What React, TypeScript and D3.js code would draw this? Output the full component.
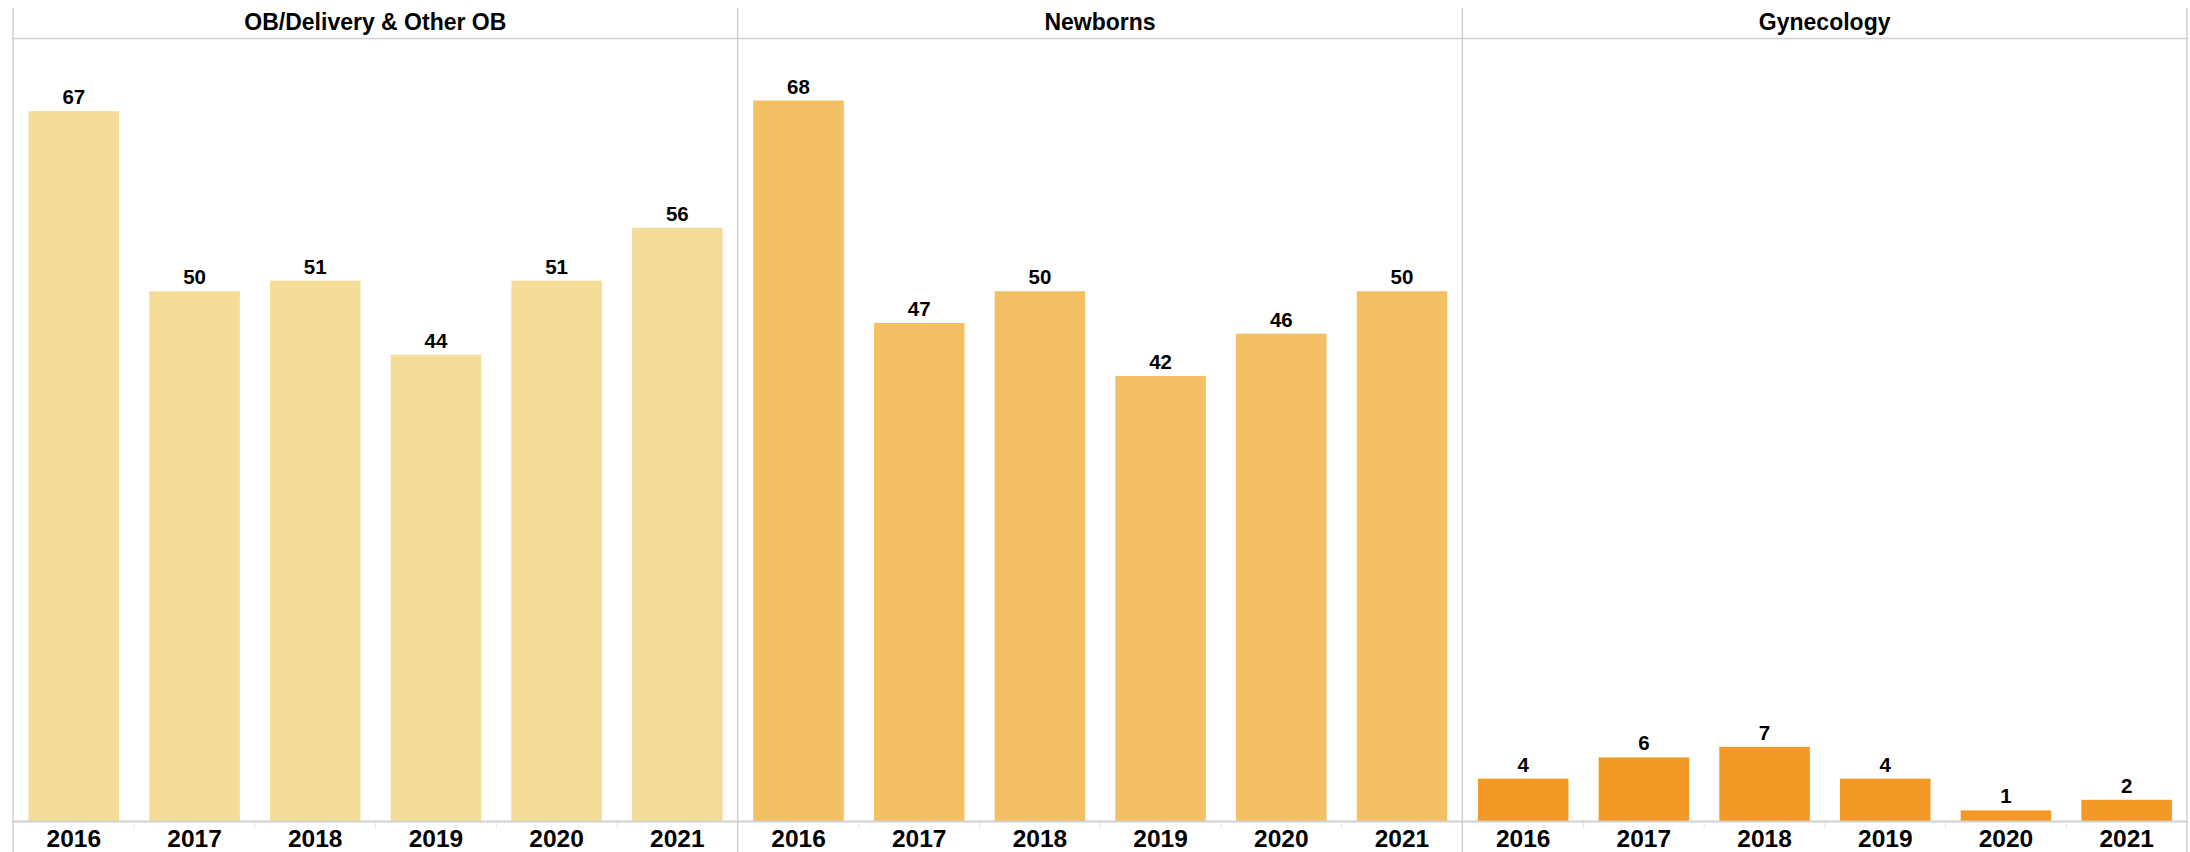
import React from "react";
import * as d3 from "d3";

const years = ["2016", "2017", "2018", "2019", "2020", "2021"];
const panels = ["OB/Delivery & Other OB", "Newborns", "Gynecology"];
const obValues = [67, 50, 51, 44, 51, 56];
const newbornValues = [68, 47, 50, 42, 46, 50];
const gynValues = [4, 6, 7, 4, 1, 2];
const panelColors = ["#F3DD98", "#F3C064", "#F39A26"];
const yMax = 73.9;

const W = 2190;
const H = 852;
const left = 13;
const right = 2187;
const top = 8;
const headerBottom = 38;
const baseline = 821;
const FONT = "'Liberation Sans', Arial, sans-serif";

export default function App() {
  const series = [obValues, newbornValues, gynValues];
  const panelScale = d3.scaleBand<string>().domain(panels).range([left, right]).padding(0);
  const y = d3.scaleLinear().domain([0, yMax]).range([baseline, headerBottom]);
  const pw = panelScale.bandwidth();

  return (
    <svg
      width={W}
      height={H}
      style={{ position: "absolute", left: 0, top: 0, background: "#fff" }}
      fontFamily={FONT}
    >
      {panels.map((p, i) => {
        const px = panelScale(p)!;
        const x = d3.scaleBand<string>().domain(years).range([px + 0.5, px + pw]).paddingInner(0.25).paddingOuter(0.125);
        return (
          <g key={p}>
            <text
              x={px + pw / 2}
              y={headerBottom - 8}
              textAnchor="middle"
              fontSize={23}
              fontWeight="bold"
              fill="#000"
            >
              {p}
            </text>
            {series[i].map((v, j) => (
              <g key={j}>
                <rect
                  x={x(years[j])}
                  y={y(v)}
                  width={x.bandwidth()}
                  height={baseline - y(v)}
                  fill={panelColors[i]}
                />
                <text
                  x={x(years[j])! + x.bandwidth() / 2}
                  y={y(v) - 7}
                  textAnchor="middle"
                  fontSize={20.5}
                  fontWeight="bold"
                  fill="#000"
                >
                  {v}
                </text>
                <text
                  x={x(years[j])! + x.bandwidth() / 2}
                  y={847}
                  textAnchor="middle"
                  fontSize={24.5}
                  fontWeight="bold"
                  fill="#000"
                >
                  {years[j]}
                </text>
                {j > 0 && (
                  <line
                    x1={x(years[j])! - (x.step() - x.bandwidth()) / 2}
                    x2={x(years[j])! - (x.step() - x.bandwidth()) / 2}
                    y1={baseline + 1}
                    y2={baseline + 8}
                    stroke="#e6e6e6"
                    strokeWidth={1}
                  />
                )}
              </g>
            ))}
          </g>
        );
      })}
      {/* baseline */}
      <line x1={left} x2={right} y1={baseline + 0.5} y2={baseline + 0.5} stroke="#d0d0d0" strokeWidth={2} />
      {/* header line */}
      <line x1={left} x2={right} y1={headerBottom + 0.5} y2={headerBottom + 0.5} stroke="#d0d0d0" strokeWidth={1.5} />
      {/* vertical borders */}
      {[...panels.map((p) => panelScale(p)!), right].map((xv, k) => (
        <line key={k} x1={xv} x2={xv} y1={top} y2={H} stroke="#cfcfcf" strokeWidth={1.5} />
      ))}
    </svg>
  );
}
